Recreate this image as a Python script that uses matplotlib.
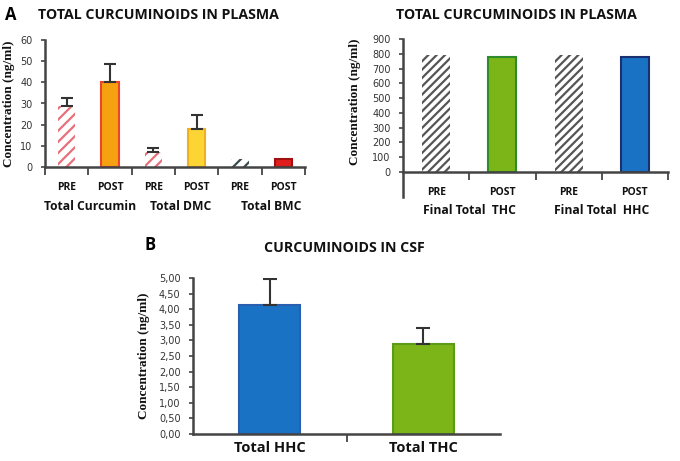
import numpy as np
import matplotlib.pyplot as plt

W, H = 680, 461
DPI = 100

# panel A left - total curcuminoids in plasma
left_labels = ["PRE", "POST", "PRE", "POST", "PRE", "POST"]
left_groups = ["Total Curcumin", "Total DMC", "Total BMC"]
left_vals = [28.7, 40.3, 7.0, 18.0, 4.0, 4.0]
left_err = [4.1, 8.3, 2.0, 6.5, 0, 0]

# panel A right - final totals
right_labels = ["PRE", "POST", "PRE", "POST"]
right_groups = ["Final Total  THC", "Final Total  HHC"]
right_vals = [795, 775, 795, 775]

# panel B - CSF
csf_labels = ["Total HHC", "Total THC"]
csf_vals = [4.13, 2.90]
csf_err = [0.85, 0.50]
csf_ticks = [0, 0.5, 1.0, 1.5, 2.0, 2.5, 3.0, 3.5, 4.0, 4.5, 5.0]
csf_ticklabels = ["0,00", "0,50", "1,00", "1,50", "2,00", "2,50",
                  "3,00", "3,50", "4,00", "4,50", "5,00"]

plt.rcParams['hatch.linewidth'] = 1.6
TITLE = dict(family="Open Sans", weight="bold", size=10.2, color="#111")
YLAB = dict(family="Liberation Serif", weight="bold", size=9.5, color="#111")
SMALL = dict(family="Open Sans", weight="bold", size=7.5, color="#111")
GRP = dict(family="Open Sans", weight="bold", size=8.7, color="#111")
AX = "#444444"


def px_axes(fig, x0, y0, x1, y1):
    return fig.add_axes([x0 / W, 1 - y1 / H, (x1 - x0) / W, (y1 - y0) / H])


def style(ax):
    for s in ["top", "right"]:
        ax.spines[s].set_visible(False)
    for s in ["left", "bottom"]:
        ax.spines[s].set_color(AX)
        ax.spines[s].set_linewidth(1.8)
    ax.tick_params(axis="y", direction="out", length=3, width=1.2, color=AX,
                   labelsize=7, labelcolor="#333", pad=6)
    ax.tick_params(axis="x", which="major", length=0)
    ax.tick_params(axis="x", which="minor", direction="out", length=6,
                   width=1.3, color=AX)


fig = plt.figure(figsize=(W / DPI, H / DPI), dpi=DPI)

# ---------- A left ----------
ax = px_axes(fig, 45, 40, 305, 167)
x = np.arange(len(left_vals))
fills = ["none", "#f6a210", "none", "#fcd535", "none", "#e01e1e"]
edges = ["#e8707a", "#e8452a", "#e8707a", "#f0b020", "#3a4a4a", "#a01010"]
hatches = ["///", None, "///", None, "///", None]
for i in range(len(x)):
    if hatches[i]:
        ax.bar(x[i], left_vals[i], 0.4, color="none", edgecolor=edges[i],
               hatch=hatches[i], linewidth=0)
    else:
        ax.bar(x[i], left_vals[i], 0.4, color=fills[i], edgecolor=edges[i],
               linewidth=1.5)
    if left_err[i] > 0:
        ax.errorbar(x[i], left_vals[i], yerr=[[0], [left_err[i]]], fmt="none",
                    ecolor="#333", elinewidth=1.5, capsize=4, capthick=1.5)
ax.set_xlim(-0.5, 5.5)
ax.set_ylim(0, 60)
ax.set_yticks(range(0, 61, 10))
ax.set_xticks(x)
ax.set_xticklabels(left_labels, **SMALL)
ax.set_xticks(np.arange(-0.5, 6, 1), minor=True)
style(ax)
ax.tick_params(axis="x", which="major", pad=11)
for g, name in enumerate(left_groups):
    ax.text(2 * g + 0.55 + 0.08 * g, -0.31, name,
            transform=ax.get_xaxis_transform(),
            ha="center", va="center", **GRP)
ax.set_ylabel("Concentration (ng/ml)", labelpad=4, **YLAB)
fig.text(5 / W, 1 - 15 / H, "A", family="Open Sans", weight="bold", size=12,
         va="center")
fig.text(158 / W, 1 - 15 / H, "TOTAL CURCUMINOIDS IN PLASMA", ha="center",
         va="center", **TITLE)

# ---------- A right ----------
ax = px_axes(fig, 403, 39, 668, 197)
x = np.arange(len(right_vals))
fills = ["none", "#7cb518", "none", "#1a72c4"]
edges = ["#555555", "#2e8b2e", "#555555", "#1a3070"]
for i in range(len(x)):
    if fills[i] == "none":
        ax.bar(x[i], right_vals[i], 0.42, color="none", edgecolor=edges[i],
               hatch="////", linewidth=0)
    else:
        ax.bar(x[i], right_vals[i], 0.42, color=fills[i], edgecolor=edges[i],
               linewidth=1.5)
ax.set_xlim(-0.5, 3.5)
ax.set_ylim(-170, 900)
ax.spines["bottom"].set_position(("data", 0))
ax.spines["left"].set_bounds(-170, 900)
ax.set_yticks(range(0, 901, 100))
ax.set_xticks(x)
ax.set_xticklabels(right_labels, **SMALL)
ax.set_xticks(np.arange(0.5, 4, 1), minor=True)
style(ax)
ax.tick_params(axis="x", which="major", pad=11)
for g, name in enumerate(right_groups):
    ax.text(2 * g + 0.5, -0.085, name, transform=ax.get_xaxis_transform(),
            ha="center", va="center", **GRP)
ax.set_ylabel("Concentration (ng/ml)", labelpad=4, **YLAB)
ax.yaxis.set_label_coords(-0.16, 0.6)
fig.text(516 / W, 1 - 15 / H, "TOTAL CURCUMINOIDS IN PLASMA", ha="center",
         va="center", **TITLE)

# ---------- B ----------
ax = px_axes(fig, 193, 278, 500, 434)
x = np.arange(len(csf_vals))
ax.bar(x, csf_vals, 0.4, color=["#1a72c4", "#7cb518"],
       edgecolor=["#2a5fb0", "#5c9a18"], linewidth=1.5)
ax.errorbar(x, csf_vals, yerr=[np.zeros(len(x)), csf_err], fmt="none",
            ecolor="#333", elinewidth=1.5, capsize=5, capthick=1.5)
ax.set_xlim(-0.5, 1.5)
ax.set_ylim(0, 5.0)
ax.set_yticks(csf_ticks)
ax.set_yticklabels(csf_ticklabels)
ax.set_xticks(x)
ax.set_xticklabels(csf_labels, family="Open Sans", weight="bold", size=10.5,
                   color="#111")
ax.set_xticks([0.5], minor=True)
style(ax)
ax.tick_params(axis="x", which="major", pad=5)
ax.set_ylabel("Concentration (ng/ml)", labelpad=6, **YLAB)
fig.text(145 / W, 1 - 245 / H, "B", family="Open Sans", weight="bold",
         size=12, va="center")
fig.text(344 / W, 1 - 248 / H, "CURCUMINOIDS IN CSF", ha="center",
         va="center", **TITLE)

fig.savefig("out.png", dpi=DPI)
